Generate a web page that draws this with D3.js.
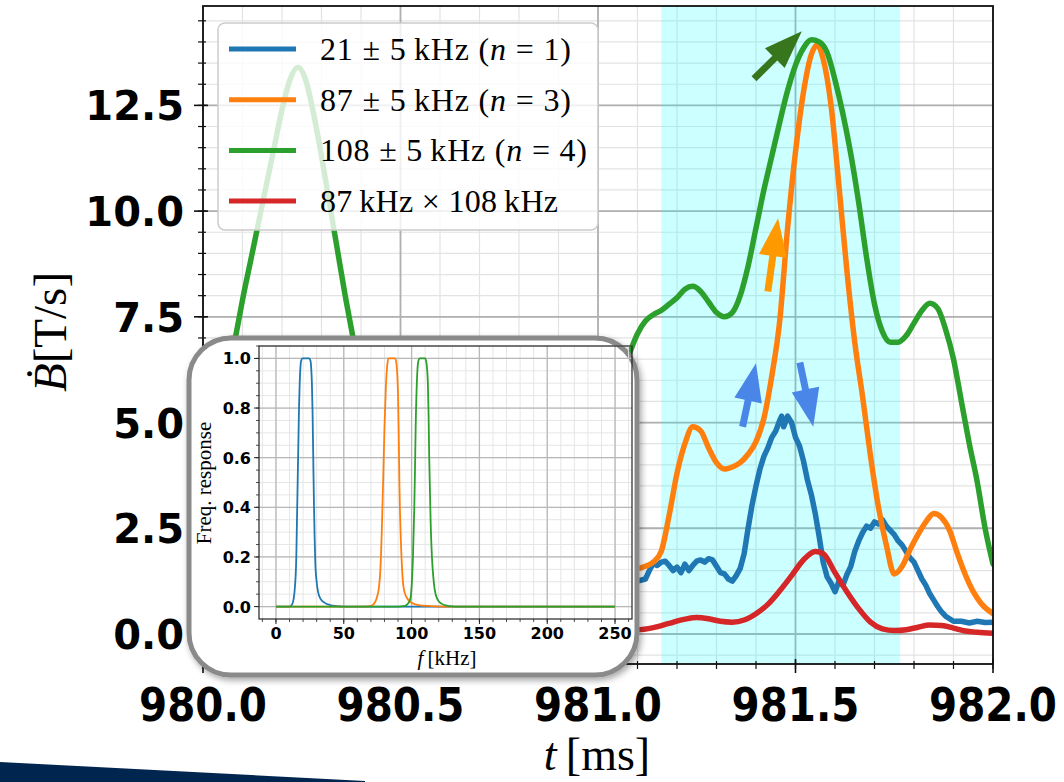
<!DOCTYPE html>
<html><head><meta charset="utf-8">
<script src="https://cdn.jsdelivr.net/npm/d3@7"></script>
<style>body{margin:0;background:#fff}svg{display:block}</style>
</head><body><svg id="c" width="1064" height="782"></svg>
<script>
// ---------------- data ----------------
const xTickValues = [980.0, 980.5, 981.0, 981.5, 982.0];
const xTickLabels = ["980.0", "980.5", "981.0", "981.5", "982.0"];
const yTickValues = [0, 2.5, 5, 7.5, 10, 12.5];
const yTickLabels = ["0.0", "2.5", "5.0", "7.5", "10.0", "12.5"];
const seriesColors = ["#1f77b4", "#ff7f0e", "#2ca02c", "#d62728"];
const highlightSpan = [981.16, 981.765];

// t [ms], Bdot [T/s]
const blue21 = [[980.00,1.2],[980.2,1.6],[980.4,1.0],[980.6,1.4],[980.8,1.1],[981.0,1.5],[981.08,1.2],[981.10,1.25],
[981.12,1.3],[981.13,1.5],[981.14,1.67],[981.15,1.62],[981.16,1.7],[981.17,1.72],[981.18,1.62],[981.19,1.5],[981.20,1.58],
[981.21,1.45],[981.22,1.65],[981.23,1.5],[981.24,1.62],[981.25,1.72],[981.26,1.75],[981.27,1.7],[981.28,1.78],[981.29,1.75],
[981.30,1.6],[981.31,1.45],[981.32,1.42],[981.33,1.3],[981.34,1.25],[981.35,1.38],[981.36,1.55],[981.37,1.9],[981.38,2.5],
[981.39,3.05],[981.40,3.5],[981.41,3.9],[981.42,4.2],[981.43,4.4],[981.44,4.65],[981.45,4.8],[981.46,5.05],[981.465,5.15],
[981.47,4.9],[981.48,5.15],[981.49,5.0],[981.50,4.65],[981.51,4.45],[981.52,4.1],[981.53,3.65],[981.54,3.3],[981.55,2.85],
[981.56,2.3],[981.57,1.7],[981.58,1.35],[981.59,1.2],[981.60,1.0],[981.61,1.25],[981.62,1.15],[981.63,1.4],[981.64,1.6],
[981.65,1.95],[981.66,2.2],[981.67,2.4],[981.68,2.55],[981.69,2.5],[981.70,2.65],[981.71,2.6],[981.72,2.7],[981.73,2.55],
[981.74,2.45],[981.75,2.35],[981.76,2.2],[981.77,2.1],[981.78,1.95],[981.79,1.8],[981.80,1.7],[981.81,1.5],[981.82,1.3],
[981.83,1.15],[981.84,0.95],[981.85,0.8],[981.86,0.65],[981.87,0.52],[981.88,0.42],[981.89,0.36],[981.90,0.3],[981.92,0.3],
[981.94,0.26],[981.96,0.3],[981.98,0.27],[982.00,0.28]];

const orange87 = [[980.00,5.0],[980.03,6.2],[980.06,6.95],[980.08,7.0],[980.10,6.6],[980.15,5.2],[980.20,3.8],[980.25,2.5],
[980.30,1.8],[980.40,1.5],[980.50,2.5],[980.60,3.0],[980.70,2.2],[980.80,1.5],[980.90,1.6],[981.00,1.8],[981.05,1.7],
[981.10,1.55],[981.12,1.6],[981.14,1.7],[981.16,1.95],[981.18,2.8],[981.20,3.8],[981.22,4.5],[981.24,4.9],[981.26,4.8],
[981.28,4.4],[981.30,4.05],[981.32,3.9],[981.34,3.95],[981.36,4.05],[981.38,4.25],[981.40,4.55],[981.42,5.1],[981.44,6.1],
[981.46,7.4],[981.48,9.6],[981.50,11.4],[981.52,12.8],[981.54,13.7],[981.555,13.93],[981.57,13.6],[981.59,12.5],
[981.61,10.6],[981.63,8.6],[981.65,6.9],[981.67,5.6],[981.69,4.2],[981.71,3.0],[981.73,2.1],[981.75,1.42],[981.77,1.6],
[981.79,2.0],[981.81,2.35],[981.83,2.65],[981.85,2.85],[981.87,2.75],[981.89,2.45],[981.91,1.9],[981.93,1.4],[981.95,1.0],
[981.97,0.72],[982.00,0.48]];

const green108 = [[980.00,3.0],[980.04,4.8],[980.08,6.9],[980.10,7.9],[980.12,8.8],[980.14,9.7],[980.16,10.6],[980.18,11.5],
[980.20,12.4],[980.22,13.1],[980.24,13.4],[980.26,13.1],[980.28,12.3],[980.30,11.3],[980.32,10.2],[980.34,9.1],[980.36,8.0],
[980.38,7.0],[980.40,6.0],[980.45,4.5],[980.50,3.6],[980.60,3.2],[980.70,3.8],[980.80,4.5],[980.90,5.0],[981.00,5.5],
[981.05,6.0],[981.08,6.65],[981.10,7.1],[981.12,7.4],[981.14,7.55],[981.16,7.65],[981.18,7.8],[981.20,7.95],[981.22,8.15],
[981.24,8.22],[981.26,8.1],[981.28,7.85],[981.30,7.6],[981.32,7.5],[981.34,7.6],[981.36,8.0],[981.38,8.7],[981.40,9.6],
[981.42,10.5],[981.44,11.3],[981.46,12.1],[981.48,12.85],[981.50,13.45],[981.52,13.85],[981.54,14.05],[981.56,14.0],
[981.58,13.75],[981.60,13.1],[981.62,12.3],[981.64,11.35],[981.66,10.2],[981.68,8.9],[981.70,7.8],[981.72,7.15],[981.74,6.9],
[981.76,6.9],[981.78,7.05],[981.80,7.35],[981.82,7.65],[981.84,7.82],[981.86,7.7],[981.88,7.2],[981.90,6.5],[981.92,5.5],
[981.94,4.5],[981.96,3.6],[981.98,2.5],[982.00,1.65]];

const red87x108 = [[980.00,0.2],[980.30,0.3],[980.60,0.2],[980.90,0.25],[981.05,0.1],[981.10,0.1],[981.14,0.15],[981.18,0.25],
[981.22,0.35],[981.25,0.39],[981.28,0.36],[981.31,0.3],[981.34,0.28],[981.37,0.33],[981.40,0.48],[981.43,0.7],[981.46,1.02],
[981.49,1.38],[981.52,1.75],[981.55,1.95],[981.57,1.9],[981.60,1.45],[981.63,1.0],[981.66,0.6],[981.69,0.28],[981.72,0.12],
[981.75,0.08],[981.78,0.1],[981.81,0.16],[981.84,0.21],[981.87,0.2],[981.90,0.14],[981.93,0.07],[981.96,0.04],[982.00,0.02]];

const legendLabels = [
  ["21 \u00b1 5\u2009kHz (", "n", " = 1)"],
  ["87 \u00b1 5\u2009kHz (", "n", " = 3)"],
  ["108 \u00b1 5\u2009kHz (", "n", " = 4)"],
  ["87\u2009kHz \u00d7 108\u2009kHz", "", ""]
];
const legendWidths = [251, 251, 267, 238];

// arrows: [t0, v0, t1, v1, colour]
const arrows = [
  [981.395, 13.13, 981.516, 14.25, "#38761d"],
  [981.430, 8.10, 981.456, 9.83, "#ff9900"],
  [981.366, 4.90, 981.400, 6.40, "#4a86e8"],
  [981.511, 6.42, 981.545, 4.90, "#4a86e8"]
];

// inset: frequency [kHz], response
const insetXTicks = [0, 50, 100, 150, 200, 250];
const insetYTicks = [0, 0.2, 0.4, 0.6, 0.8, 1.0];
const respBlue = [[0,0],[10,0],[12,0.01],[13,0.03],[14,0.08],[15,0.2],[15.5,0.35],[16,0.5],[16.5,0.65],[17,0.8],[17.5,0.9],
[18,0.96],[18.5,0.99],[19.5,1.0],[24.5,1.0],[25.5,0.99],[26,0.96],[26.5,0.9],[27,0.78],[27.5,0.6],[28,0.42],[28.5,0.28],
[29,0.18],[30,0.1],[31,0.06],[33,0.03],[36,0.015],[40,0.006],[45,0.002],[50,0],[250,0]];
const respOrange = [[0,0],[65,0],[70,0.003],[72,0.01],[74,0.03],[76,0.08],[77,0.15],[78,0.3],[79,0.5],[80,0.72],[81,0.88],
[82,0.97],[83,1.0],[88,1.0],[89,0.97],[90,0.85],[90.5,0.7],[91,0.5],[92,0.28],[93,0.15],[94,0.08],[96,0.04],[100,0.015],
[105,0.006],[115,0.002],[125,0],[250,0]];
const respGreen = [[0,0],[90,0],[95,0.003],[97,0.01],[99,0.03],[100,0.08],[101,0.2],[102,0.4],[102.5,0.55],[103,0.72],
[104,0.92],[105,0.99],[106,1.0],[110,1.0],[111,0.98],[112,0.9],[112.5,0.78],[113,0.6],[114,0.35],[115,0.2],[116,0.12],
[117,0.07],[119,0.03],[122,0.012],[126,0.004],[130,0.001],[135,0],[250,0]];

// ---------------- drawing ----------------
const svg = d3.select("#c");
svg.append("rect").attr("width",1064).attr("height",782).attr("fill","#fff");
const defs = svg.append("defs");
defs.append("clipPath").attr("id","plotClip").append("rect").attr("x",203).attr("y",6).attr("width",790).attr("height",658);
const sh = defs.append("filter").attr("id","shadow").attr("x","-10%").attr("y","-10%").attr("width","125%").attr("height","125%");
sh.append("feDropShadow").attr("dx",2).attr("dy",3).attr("stdDeviation",3).attr("flood-color","#000").attr("flood-opacity",0.35);

const x = d3.scaleLinear([980, 982], [203, 993]);
const y = d3.scaleLinear([-0.71, 14.85], [664, 6]);

const g = svg.append("g");
// minor grid
const xMinor = d3.range(980, 982.0001, 0.1).map(v => +v.toFixed(2));
const yMinor = d3.range(-0.5, 14.85, 0.5);
g.append("g").selectAll("line").data(xMinor).join("line")
  .attr("x1", d => x(d)).attr("x2", d => x(d)).attr("y1", 6).attr("y2", 664)
  .attr("stroke", "#e3e3e3").attr("stroke-width", 1.2);
g.append("g").selectAll("line").data(yMinor).join("line")
  .attr("y1", d => y(d)).attr("y2", d => y(d)).attr("x1", 203).attr("x2", 993)
  .attr("stroke", "#e3e3e3").attr("stroke-width", 1.2);
// major grid
g.append("g").selectAll("line").data(xTickValues).join("line")
  .attr("x1", d => x(d)).attr("x2", d => x(d)).attr("y1", 6).attr("y2", 664)
  .attr("stroke", "#b0b0b0").attr("stroke-width", 1.8);
g.append("g").selectAll("line").data(yTickValues).join("line")
  .attr("y1", d => y(d)).attr("y2", d => y(d)).attr("x1", 203).attr("x2", 993)
  .attr("stroke", "#b0b0b0").attr("stroke-width", 1.8);

// highlight span
g.append("rect").attr("x", x(highlightSpan[0])).attr("width", x(highlightSpan[1]) - x(highlightSpan[0]))
  .attr("y", 6).attr("height", 658).attr("fill", "#00ffff").attr("opacity", 0.2);

// curves
const line = d3.line().x(d => x(d[0])).y(d => y(d[1]));
const curves = g.append("g").attr("clip-path", "url(#plotClip)");
[[blue21, d3.curveLinear], [orange87, d3.curveMonotoneX], [green108, d3.curveMonotoneX], [red87x108, d3.curveMonotoneX]]
  .forEach(([data, cv], i) => {
    curves.append("path").datum(data).attr("d", line.curve(cv))
      .attr("fill", "none").attr("stroke", seriesColors[i]).attr("stroke-width", 5.5)
      .attr("stroke-linejoin", "round").attr("stroke-linecap", "round");
  });

// spines
g.append("rect").attr("x",203).attr("y",6).attr("width",790).attr("height",658)
  .attr("fill","none").attr("stroke","#111").attr("stroke-width",1.8);

// ticks
g.append("g").selectAll("line").data(xMinor).join("line")
  .attr("x1", d => x(d)).attr("x2", d => x(d)).attr("y1", 661).attr("y2", 669).attr("stroke","#111").attr("stroke-width",1.2);
g.append("g").selectAll("line").data(xTickValues).join("line")
  .attr("x1", d => x(d)).attr("x2", d => x(d)).attr("y1", 659).attr("y2", 673).attr("stroke","#111").attr("stroke-width",1.6);
g.append("g").selectAll("line").data(yMinor).join("line")
  .attr("y1", d => y(d)).attr("y2", d => y(d)).attr("x1", 198).attr("x2", 206).attr("stroke","#111").attr("stroke-width",1.2);
g.append("g").selectAll("line").data(yTickValues).join("line")
  .attr("y1", d => y(d)).attr("y2", d => y(d)).attr("x1", 194).attr("x2", 208).attr("stroke","#111").attr("stroke-width",1.6);

// tick labels
g.append("g").selectAll("text").data(xTickValues).join("text")
  .attr("transform", d => `translate(${x(d)},721) scale(0.94,1.06)`).attr("text-anchor","middle")
  .attr("font-family","DejaVu Sans").attr("font-weight","bold").attr("font-size",43).attr("fill","#000")
  .text((d,i) => xTickLabels[i]);
g.append("g").selectAll("text").data(yTickValues).join("text")
  .attr("x", 184).attr("y", d => y(d) + 15).attr("text-anchor","end")
  .attr("font-family","DejaVu Sans").attr("font-weight","bold").attr("font-size",40).attr("fill","#000")
  .text((d,i) => yTickLabels[i]);

// axis labels
const xl = svg.append("text").attr("x", 597).attr("y", 770).attr("text-anchor","middle")
  .attr("font-family","Liberation Serif, DejaVu Serif").attr("font-size",46).attr("fill","#000");
xl.append("tspan").attr("font-style","italic").text("t");
xl.append("tspan").text("\u2009[ms]");
const yl = svg.append("text").attr("transform","translate(66,332) rotate(-90)").attr("text-anchor","middle")
  .attr("font-family","Liberation Serif, DejaVu Serif").attr("font-size",47).attr("fill","#000");
yl.append("tspan").attr("font-style","italic").text("\u1E02");
yl.append("tspan").text("[T/s]");

// legend
const lg = svg.append("g");
lg.append("rect").attr("x",218).attr("y",23).attr("width",380).attr("height",207).attr("rx",7)
  .attr("fill","#fff").attr("fill-opacity",0.8).attr("stroke","#cccccc").attr("stroke-width",1.5);
legendLabels.forEach((lab, i) => {
  const yy = 49 + i * 50.7;
  lg.append("line").attr("x1",229).attr("x2",296).attr("y1",yy).attr("y2",yy)
    .attr("stroke", seriesColors[i]).attr("stroke-width",5);
  const t = lg.append("text").attr("x",320).attr("y",yy + 11)
    .attr("textLength", legendWidths[i]).attr("lengthAdjust","spacing")
    .attr("font-family","Liberation Serif, DejaVu Serif").attr("font-size",32).attr("fill","#000");
  t.append("tspan").text(lab[0]);
  if (lab[1]) { t.append("tspan").attr("font-style","italic").text(lab[1]); t.append("tspan").text(lab[2]); }
});

// arrows
function arrowPath(x1, y1, x2, y2, sw, hl, hw) {
  const dx = x2 - x1, dy = y2 - y1, L = Math.hypot(dx, dy);
  const ux = dx / L, uy = dy / L, px = -uy, py = ux;
  const bx = x2 - ux * hl, by = y2 - uy * hl;
  const p = [
    [x1 + px * sw / 2, y1 + py * sw / 2], [bx + px * sw / 2, by + py * sw / 2], [bx + px * hw / 2, by + py * hw / 2],
    [x2, y2], [bx - px * hw / 2, by - py * hw / 2], [bx - px * sw / 2, by - py * sw / 2], [x1 - px * sw / 2, y1 - py * sw / 2]
  ];
  return "M" + p.map(q => q.join(",")).join("L") + "Z";
}
svg.append("g").selectAll("path").data(arrows).join("path")
  .attr("d", a => arrowPath(x(a[0]), y(a[1]), x(a[2]), y(a[3]), 7, 38, 28))
  .attr("fill", a => a[4]);

// ---------------- inset ----------------
const ins = svg.append("g");
ins.append("rect").attr("x",189).attr("y",338).attr("width",448).attr("height",337).attr("rx",42)
  .attr("fill","#fff").attr("stroke","#8a8a8a").attr("stroke-width",5).attr("filter","url(#shadow)");
const fx = d3.scaleLinear([-12.5, 262.5], [259, 632]);
const fy = d3.scaleLinear([-0.05, 1.05], [619, 346]);
const fxMinor = d3.range(-10, 261, 10);
const fyMinor = d3.range(0, 1.051, 0.05);
ins.append("g").selectAll("line").data(fxMinor).join("line")
  .attr("x1", d => fx(d)).attr("x2", d => fx(d)).attr("y1", 346).attr("y2", 619).attr("stroke","#e6e6e6").attr("stroke-width",1);
ins.append("g").selectAll("line").data(fyMinor).join("line")
  .attr("y1", d => fy(d)).attr("y2", d => fy(d)).attr("x1", 259).attr("x2", 632).attr("stroke","#e6e6e6").attr("stroke-width",1);
ins.append("g").selectAll("line").data(insetXTicks).join("line")
  .attr("x1", d => fx(d)).attr("x2", d => fx(d)).attr("y1", 346).attr("y2", 619).attr("stroke","#b8b8b8").attr("stroke-width",1.3);
ins.append("g").selectAll("line").data(insetYTicks).join("line")
  .attr("y1", d => fy(d)).attr("y2", d => fy(d)).attr("x1", 259).attr("x2", 632).attr("stroke","#b8b8b8").attr("stroke-width",1.3);
const fline = d3.line().x(d => fx(d[0])).y(d => fy(d[1])).curve(d3.curveMonotoneX);
[respBlue, respOrange, respGreen].forEach((data, i) => {
  ins.append("path").datum(data).attr("d", fline).attr("fill","none")
    .attr("stroke", seriesColors[i]).attr("stroke-width", 1.8);
});
ins.append("rect").attr("x",259).attr("y",346).attr("width",373).attr("height",273)
  .attr("fill","none").attr("stroke","#222").attr("stroke-width",1.2);
ins.append("g").selectAll("line").data(fxMinor).join("line")
  .attr("x1", d => fx(d)).attr("x2", d => fx(d)).attr("y1", 619).attr("y2", 622).attr("stroke","#222").attr("stroke-width",0.8);
ins.append("g").selectAll("line").data(insetXTicks).join("line")
  .attr("x1", d => fx(d)).attr("x2", d => fx(d)).attr("y1", 619).attr("y2", 624).attr("stroke","#222").attr("stroke-width",1);
ins.append("g").selectAll("line").data(fyMinor).join("line")
  .attr("y1", d => fy(d)).attr("y2", d => fy(d)).attr("x1", 256).attr("x2", 259).attr("stroke","#222").attr("stroke-width",0.8);
ins.append("g").selectAll("line").data(insetYTicks).join("line")
  .attr("y1", d => fy(d)).attr("y2", d => fy(d)).attr("x1", 254).attr("x2", 259).attr("stroke","#222").attr("stroke-width",1);
ins.append("g").selectAll("text").data(insetXTicks).join("text")
  .attr("x", d => fx(d)).attr("y", 639).attr("text-anchor","middle")
  .attr("font-family","DejaVu Sans").attr("font-weight","bold").attr("font-size",16).text(d => d);
ins.append("g").selectAll("text").data(insetYTicks).join("text")
  .attr("x", 251).attr("y", d => fy(d) + 6).attr("text-anchor","end")
  .attr("font-family","DejaVu Sans").attr("font-weight","bold").attr("font-size",16).text(d => d.toFixed(1));
const fl = ins.append("text").attr("x", 447).attr("y", 665).attr("text-anchor","middle")
  .attr("font-family","Liberation Serif, DejaVu Serif").attr("font-size",21);
fl.append("tspan").attr("font-style","italic").text("f");
fl.append("tspan").text("\u2009[kHz]");
ins.append("text").attr("transform","translate(211,483) rotate(-90)").attr("text-anchor","middle")
  .attr("font-family","Liberation Serif, DejaVu Serif").attr("font-size",21).text("Freq. response");

// slide decoration
svg.append("path").attr("d", "M0,762L365,781L365,782L0,782Z").attr("fill", "#00264f");
</script></body></html>
